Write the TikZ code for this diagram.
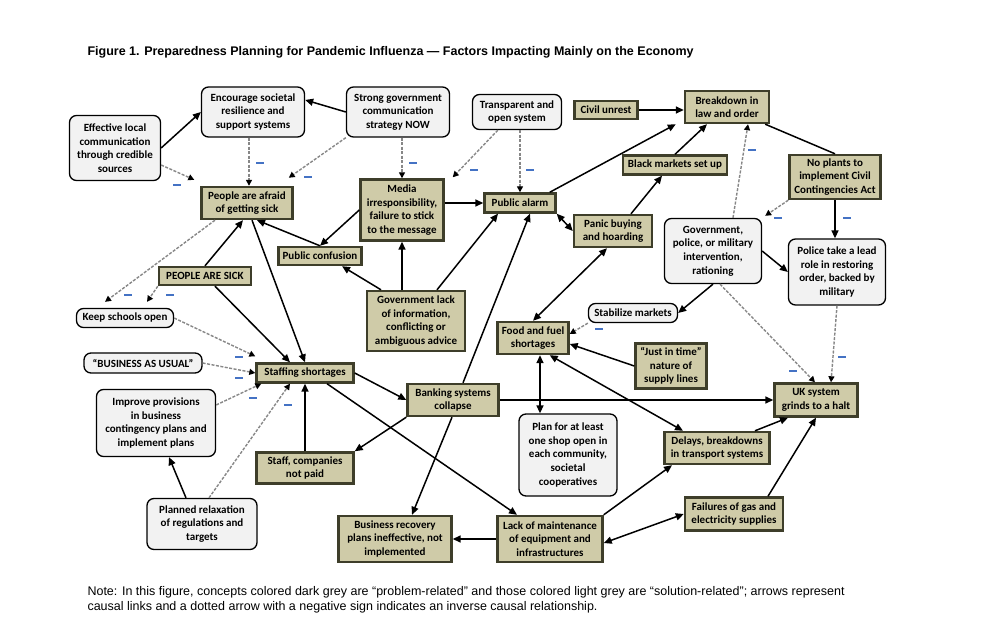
\documentclass[tikz,border=0pt]{standalone}
\usepackage{fontspec}
\setmainfont{Carlito}
\newfontfamily\arialfont{Liberation Sans}
\usetikzlibrary{arrows.meta}

\definecolor{probfill}{RGB}{207,203,168}
\definecolor{probline}{RGB}{62,62,42}
\definecolor{solfill}{RGB}{242,242,242}
\definecolor{negblue}{RGB}{68,114,196}
\definecolor{dashgray}{RGB}{135,135,135}

\tikzset{
	prob/.style={draw=probline, fill=probfill, line width=2.4pt, align=center, inner sep=2pt,
		font=\fontsize{11}{13.6}\selectfont\bfseries},
	sol/.style={draw=black, fill=solfill, line width=1.3pt, rounded corners=7pt, align=center, inner sep=2pt,
		font=\fontsize{11}{13.6}\selectfont\bfseries},
	arr/.style={line width=1.5pt, -{Triangle[length=8pt,width=7pt]}},
	twoarr/.style={line width=1.5pt, {Triangle[length=8pt,width=7pt]}-{Triangle[length=8pt,width=7pt]}},
	inv/.style={draw=dashgray, line width=1.4pt, dash pattern=on 3pt off 1.5pt,
		-{Triangle[length=6pt,width=6pt,color=black]}},
	negsign/.style={fill=negblue, minimum width=8pt, minimum height=2.2pt, inner sep=0pt},
}

\begin{document}
\begin{tikzpicture}[x=1pt,y=-1pt]
		%%%%% START %%%%%
		\fill[white] (0,0) rectangle (989,644);
		\useasboundingbox (0,0) rectangle (989,644);
		
		\node[anchor=base west, font=\arialfont\fontsize{12.5}{14}\selectfont\bfseries] (title) at (84,56)
			{Figure 1. Preparedness Planning for Pandemic Influenza — Factors Impacting Mainly on the Economy};
		
		% top row
		\node[sol, minimum width=91pt, minimum height=65pt] (eff) at (115,148) {Effective local\\communication\\through credible\\sources};
		\node[sol, minimum width=103pt, minimum height=50pt] (enc) at (253,112) {Encourage societal\\resilience and\\support systems};
		\node[sol, minimum width=103pt, minimum height=50pt] (strong) at (398,112) {Strong government\\communication\\strategy NOW};
		\node[sol, minimum width=89pt, minimum height=35pt] (transp) at (517,112) {Transparent and\\open system};
		\node[prob, minimum width=63pt, minimum height=18pt] (civil) at (606,110) {Civil unrest};
		\node[prob, minimum width=84pt, minimum height=32pt] (brk) at (727,107) {Breakdown in\\law and order};
		\node[prob, minimum width=104pt, minimum height=19pt] (black) at (675,165) {Black markets set up};
		\node[prob, minimum width=91pt, minimum height=44pt] (noplan) at (835,177) {No plants to\\implement Civil\\Contingencies Act};
		
		% second row
		\node[prob, minimum width=91pt, minimum height=32pt] (afraid) at (247,203) {People are afraid\\of getting sick};
		\node[prob, minimum width=83pt, minimum height=61pt] (media) at (402,210) {Media\\irresponsibility,\\failure to stick\\to the message};
		\node[prob, minimum width=71pt, minimum height=19pt] (alarm) at (520,203) {Public alarm};
		\node[prob, minimum width=78pt, minimum height=32pt] (panic) at (613,231) {Panic buying\\and hoarding};
		\node[sol, minimum width=97pt, minimum height=65pt] (govint) at (713,251) {Government,\\police, or military\\intervention,\\rationing};
		\node[sol, minimum width=97pt, minimum height=66pt] (police) at (837,272) {Police take a lead\\role in restoring\\order, backed by\\military};
		\node[prob, minimum width=83pt, minimum height=18pt] (confus) at (320,256) {Public confusion};
		\node[prob, minimum width=92pt, minimum height=18pt] (sick) at (205,276) {PEOPLE ARE SICK};
		
		% middle
		\node[sol, minimum width=97pt, minimum height=19pt] (schools) at (125,318) {Keep schools open};
		\node[prob, minimum width=98pt, minimum height=60pt] (govlack) at (416,321) {Government lack\\of information,\\conflicting or\\ambiguous advice};
		\node[sol, minimum width=89pt, minimum height=19pt] (stab) at (633,313) {Stabilize markets};
		\node[prob, minimum width=71pt, minimum height=32pt] (food) at (533,338) {Food and fuel\\shortages};
		\node[prob, minimum width=71pt, minimum height=45pt] (jit) at (671,366) {“Just in time”\\nature of\\supply lines};
		\node[sol, minimum width=118pt, minimum height=20pt] (bau) at (143,363) {“BUSINESS AS USUAL”};
		\node[prob, minimum width=97pt, minimum height=19pt] (staff) at (305,373) {Staffing shortages};
		\node[prob, minimum width=91pt, minimum height=32pt] (bank) at (453,400) {Banking systems\\collapse};
		\node[prob, minimum width=83pt, minimum height=33pt] (uk) at (816,400) {UK system\\grinds to a halt};
		
		% bottom
		\node[sol, minimum width=119pt, minimum height=67pt] (improve) at (156,423) {Improve provisions\\in business\\contingency plans and\\implement plans};
		\node[sol, minimum width=98pt, minimum height=82pt] (plan) at (568,455) {Plan for at least\\one shop open in\\each community,\\societal\\cooperatives};
		\node[prob, minimum width=105pt, minimum height=32pt] (delays) at (717,448) {Delays, breakdowns\\in transport systems};
		\node[prob, minimum width=97pt, minimum height=31pt] (notpaid) at (305,468) {Staff, companies\\not paid};
		\node[sol, minimum width=110pt, minimum height=51pt] (relax) at (202,524) {Planned relaxation\\of regulations and\\targets};
		\node[prob, minimum width=113pt, minimum height=46pt] (recov) at (395,539) {Business recovery\\plans ineffective, not\\implemented};
		\node[prob, minimum width=105pt, minimum height=46pt] (maint) at (550,539) {Lack of maintenance\\of equipment and\\infrastructures};
		\node[prob, minimum width=98pt, minimum height=33pt] (gas) at (734,514) {Failures of gas and\\electricity supplies};
		
		% causal links
		\draw[arr] (eff.east) -- (enc.west);
		\draw[arr] (strong.west) -- (enc.13);
		\draw[arr] (civil.east) -- (civil.east -| brk.west);
		\draw[arr] ([xshift=-7pt]alarm.north east) -- ([xshift=-8pt]brk.south west);
		\draw[arr] (black.north) -- ([xshift=-20pt]brk.south);
		\draw[arr] ([xshift=18pt]panic.north) -- ([xshift=-13pt]black.south);
		\draw[line width=1.5pt] ([xshift=-5pt]brk.south east) -- (noplan.north);
		\draw[arr] (noplan.south) -- (noplan.south |- police.north);
		\draw[arr] (govint.east) -- (police.west);
		\draw[arr] (govint.south) -- (stab.east);
		\draw[arr] (media.east |- alarm.west) -- (alarm.west);
		\draw[arr] (media.west) -- (confus.north);
		\draw[arr] (confus.north) -- ([xshift=10pt]afraid.south);
		\draw[arr] (sick.north) -- ([xshift=-4pt]afraid.south);
		\draw[arr] ([xshift=5pt]afraid.south) -- (staff.north);
		\draw[arr] ([xshift=10pt]sick.south) -- ([xshift=-15pt]staff.north);
		\draw[arr] ([xshift=-35pt]govlack.north) -- ([xshift=22pt]confus.south);
		\draw[arr] (govlack.north -| media.south) -- (media.south);
		\draw[arr] ([xshift=21pt]govlack.north) -- ([xshift=-22pt]alarm.south);
		\draw[twoarr] (alarm.south east) -- (panic.west);
		\draw[twoarr] ([xshift=-6pt]panic.south) -- (food.north);
		\draw[arr] ([xshift=10pt]bank.north) -- ([xshift=10pt]alarm.south);
		\draw[arr] ([xshift=-1pt]bank.south) -- ([xshift=17pt]recov.north);
		\draw[arr] (staff.east) -- (bank.west);
		\draw[arr] (bank.south west) -- (notpaid.north east);
		\draw[arr] (notpaid.north) -- (staff.south);
		\draw[arr] ([xshift=22pt]staff.south) -- ([xshift=-33pt]maint.north);
		\draw[arr] (bank.east) -- (uk.west);
		\draw[twoarr] ([xshift=7pt]food.south) -- ([xshift=7pt]food.south |- plan.north);
		\draw[arr] (jit.west) -- ([yshift=-6pt]food.east);
		\draw[twoarr] ([xshift=-20pt]food.south east) -- ([xshift=-34pt]delays.north);
		\draw[arr] ([xshift=38pt]delays.north) -- ([xshift=-28pt]uk.south);
		\draw[arr] ([xshift=34pt]gas.north) -- (uk.south);
		\draw[arr] (maint.north east) -- ([xshift=-45pt]delays.south);
		\draw[twoarr] ([yshift=-4pt]maint.east) -- (gas.west);
		\draw[arr] (maint.west) -- (maint.west -| recov.east);
		\draw[arr] ([xshift=-16pt]relax.north) -- ([xshift=13pt]improve.south);
		
		% inverse links
		\draw[inv] ([yshift=-17pt]eff.east) -- ([xshift=-6pt,yshift=6pt]afraid.north west);
		\draw[inv] ([xshift=-4pt]enc.south) -- ([xshift=-4pt]enc.south |- afraid.north);
		\draw[inv] (strong.south west) -- ([xshift=-5pt,yshift=8pt]afraid.north east);
		\draw[inv] ([xshift=4pt]strong.south) -- ([xshift=4pt]strong.south |- media.north);
		\draw[inv] (alarm.north |- transp.south) -- (alarm.north);
		\draw[inv] ([xshift=26pt]transp.south west) -- ([xshift=8pt,yshift=1pt]media.north east);
		\draw[inv] ([xshift=-32pt]afraid.south) -- ([xshift=-20pt,yshift=6pt]schools.north);
		\draw[inv] (sick.south west) -- ([xshift=22pt,yshift=6pt]schools.north);
		\draw[inv] (schools.east) -- ([yshift=6pt]staff.north west);
		\draw[inv] (bau.east) -- (staff.west);
		\draw[inv] ([yshift=18pt]improve.east) -- ([xshift=6pt]staff.south west);
		\draw[inv] ([xshift=7pt]relax.north) -- ([xshift=-15pt]staff.south);
		\draw[inv] ([xshift=20pt]govint.north) -- ([xshift=21pt]brk.south);
		\draw[inv] (noplan.south west) -- ([xshift=3pt,yshift=2pt]govint.north east);
		\draw[inv] ([xshift=7pt]govint.south) -- ([xshift=-1pt]uk.north);
		\draw[inv] (police.south) -- ([xshift=15pt]uk.north);
		\draw[inv] (stab.south west) -- ([yshift=4pt]food.east);
		
		% negative signs
		\node[negsign] (n1) at (177,185) {};
		\node[negsign] (n2) at (260,163) {};
		\node[negsign] (n3) at (308,177) {};
		\node[negsign] (n4) at (413,163) {};
		\node[negsign] (n5) at (474,170) {};
		\node[negsign] (n6) at (530,170) {};
		\node[negsign] (n7) at (128,295) {};
		\node[negsign] (n8) at (170,295) {};
		\node[negsign] (n9) at (239,357) {};
		\node[negsign] (n10) at (239,378) {};
		\node[negsign] (n11) at (253,398) {};
		\node[negsign] (n12) at (288,405) {};
		\node[negsign] (n13) at (752,150) {};
		\node[negsign] (n14) at (778,218) {};
		\node[negsign] (n15) at (847,218) {};
		\node[negsign] (n16) at (793,371) {};
		\node[negsign] (n17) at (842,357) {};
		\node[negsign] (n18) at (599,329) {};
		
		\node[anchor=base west, align=left, font=\arialfont\fontsize{12.5}{15}\selectfont] (note) at (84,610)
			{Note: In this figure, concepts colored dark grey are “problem-related” and those colored light grey are “solution-related”; arrows represent\\
			causal links and a dotted arrow with a negative sign indicates an inverse causal relationship.};
		%%%%% END %%%%%
\end{tikzpicture}
\end{document}
